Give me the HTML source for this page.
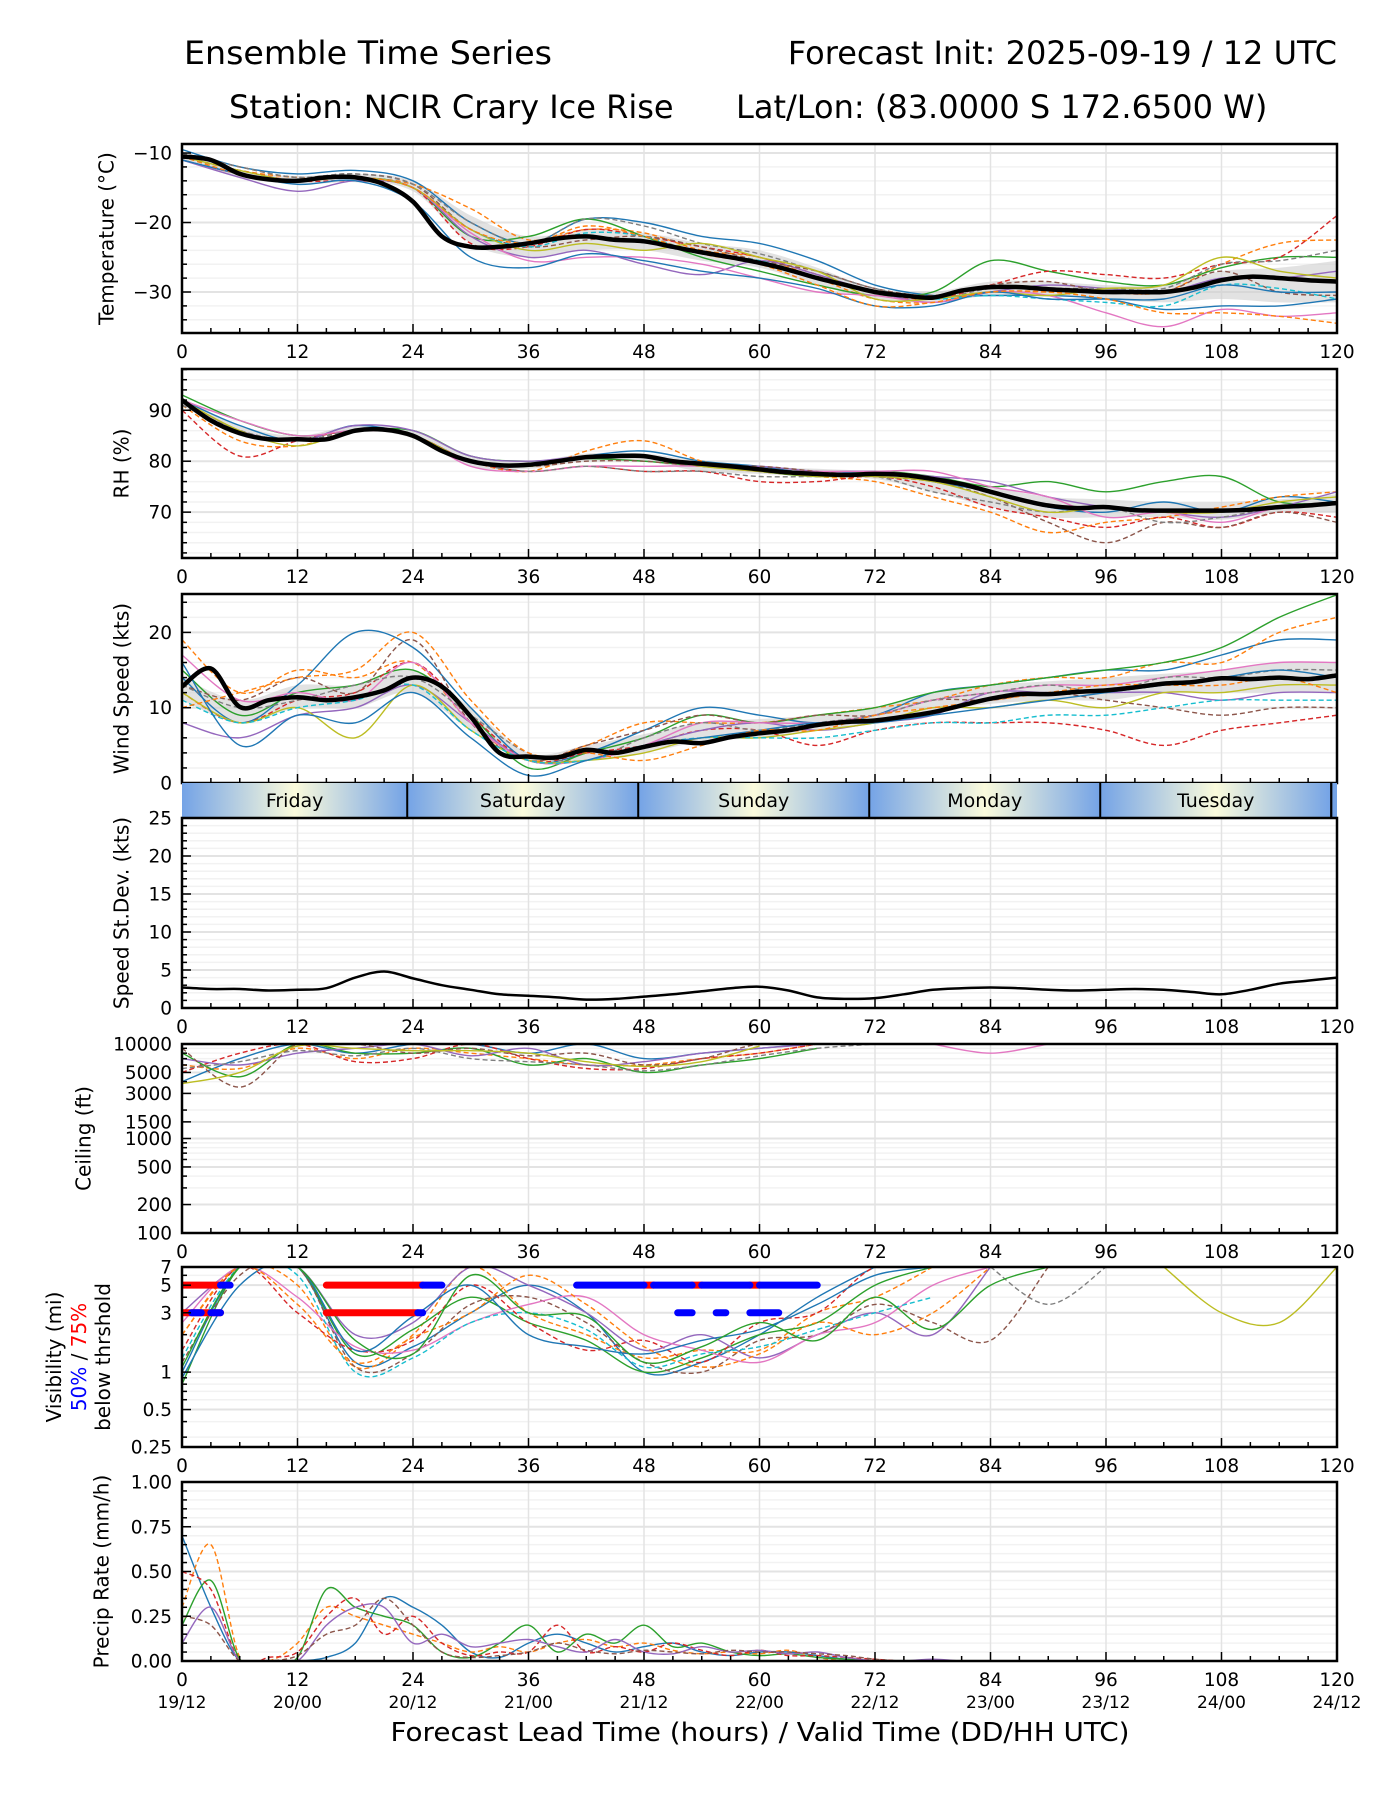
<!DOCTYPE html>
<html><head><meta charset="utf-8"><style>
html,body{margin:0;padding:0;background:#fff;}
svg text{font-family:"DejaVu Sans","Liberation Sans",sans-serif;}
</style></head><body>
<svg id="chart" xmlns="http://www.w3.org/2000/svg" width="1400" height="1800" viewBox="0 0 1400 1800">
<rect width="1400" height="1800" fill="#fff"/>
<defs>
<linearGradient id="dayGrad" x1="0" x2="1" y1="0" y2="0">
<stop offset="0" stop-color="#74a3e6"/><stop offset="0.5" stop-color="#fbfbdc"/><stop offset="1" stop-color="#74a3e6"/>
</linearGradient>
</defs>
<text x="184" y="64" font-size="32" textLength="368" lengthAdjust="spacingAndGlyphs">Ensemble Time Series</text>
<text x="1337" y="64" font-size="32" text-anchor="end">Forecast Init: 2025-09-19 / 12 UTC</text>
<text x="229" y="118" font-size="32">Station: NCIR Crary Ice Rise</text>
<text x="736" y="118" font-size="32">Lat/Lon: (83.0000 S 172.6500 W)</text>
<g id="plots"></g>
</svg>
<script>
// ---------- DATA ----------
const hours3 = [0,3,6,9,12,15,18,21,24,27,30,33,36,39,42,45,48,51,54,57,60,63,66,69,72,75,78,81,84,87,90,93,96,99,102,105,108,111,114,117,120];
const hours6 = [0,6,12,18,24,30,36,42,48,54,60,66,72,78,84,90,96,102,108,114,120];
const xTicks = [0,12,24,36,48,60,72,84,96,108,120];
const dateLabels = ["19/12","20/00","20/12","21/00","21/12","22/00","22/12","23/00","23/12","24/00","24/12"];
const dayNames = ["Friday","Saturday","Sunday","Monday","Tuesday"];
const dayBounds = [0,23.4,47.4,71.4,95.4,119.4,120];

const tempMean = [-10.5,-11,-13,-13.8,-14,-13.5,-13.5,-14.5,-17,-22,-23.5,-23.5,-23,-22.3,-22,-22.5,-22.7,-23.5,-24.3,-25,-25.8,-26.8,-28,-29,-30,-30.5,-30.8,-29.8,-29.3,-29.3,-29.6,-29.8,-30,-30,-30,-29.4,-28.3,-27.8,-28,-28.3,-28.5];
const tempHi = [-10,-12.5,-13.3,-13,-14,-19,-22,-21,-21.5,-23,-24,-26.5,-29.5,-30,-28.5,-28.5,-29,-29,-27,-26.5,-25.5];
const tempLo = [-11,-13.5,-14.5,-14.2,-15.5,-23,-25,-24,-24,-25.5,-26.5,-29,-31,-31.5,-30.5,-30.5,-31,-31.5,-31,-31.5,-31.5];
const tempM1 = [-9.5,-12,-13,-12.5,-14,-20,-23,-19.5,-20,-22,-23,-25.5,-29,-30.5,-30.5,-30.5,-31,-32.5,-32,-32,-31];
const tempM2 = [-10.5,-12.5,-13.5,-13.5,-14.5,-18,-22.5,-21,-21.5,-24,-25,-28,-31,-31.5,-30,-30,-30,-30,-26,-23,-22.5];
const tempM3 = [-11,-13,-14,-13.5,-15,-22,-22,-19.5,-22,-25,-27,-29,-30.5,-30,-25.5,-27,-28.5,-29,-26.5,-25,-25];
const tempM4 = [-10.5,-12.5,-14,-14,-15,-23,-23.5,-21,-22,-23.5,-25,-27.5,-30,-31,-29,-27,-27.5,-28,-26,-25,-19];
const tempM5 = [-11,-13.5,-15.5,-14,-15,-22,-25,-24,-26,-27.5,-25.5,-27.5,-30,-31.5,-30,-29,-29.5,-30,-28,-28,-27];
const tempM6 = [-10,-12,-13.5,-13,-14.5,-21,-23.5,-22.5,-22,-23.5,-25.5,-27,-29.5,-30.5,-29,-28.5,-30,-30,-27,-30,-30.5];
const tempM7 = [-11,-13,-14,-13.5,-15,-21.5,-25.5,-25,-25,-26,-28,-30,-30.5,-31.5,-30,-30.5,-33,-35,-32.5,-33.5,-33];
const tempM8 = [-10,-12,-13.5,-13,-14.5,-20,-23,-19.5,-20.5,-23,-24.5,-27,-29.5,-31,-29.5,-29.5,-29.5,-29.5,-26,-25.5,-24];
const tempM9 = [-10.5,-12.5,-14,-13.5,-15,-21,-24,-23,-24,-23,-25,-27,-31,-31,-30,-30.5,-29.5,-29,-25,-27,-28];
const tempM10 = [-10.5,-13,-14,-13.5,-15,-21,-23.5,-21.5,-22,-24.5,-25.5,-28,-30,-31,-30.5,-31,-31.5,-32,-29,-29.5,-31];
const tempM11 = [-11,-13,-14.5,-14,-17,-25,-26.5,-24.5,-25.5,-27,-28,-29.5,-32,-32,-30,-31,-31,-31,-29,-30,-30];
const tempM12 = [-10.5,-13,-14,-13.5,-15,-21,-23,-20.5,-22,-24.5,-26,-29,-32,-31.5,-30,-30,-31,-33,-33,-33.5,-34.5];

const rhMean = [92,88,85.5,84.3,84.3,84.3,86,86.2,85,82,80,79.2,79.3,80,80.8,81,81,80,79.5,79,78.4,77.8,77.5,77.3,77.5,77.3,76.5,75.5,74,72.5,71.3,70.8,71,70.4,70.3,70.3,70.3,70.5,71,71.3,71.8];
const rhHi = [92.5,87,85,87,86,81,80,81.5,81.5,80,79,78.5,78,77,75,73,72.5,72,72,72.5,73.5];
const rhLo = [91,85,84,86,84.5,79,78.5,80,80,78,77.5,77,76.5,74,71,69,69,69,68.5,70,70];
const rhM1 = [92,87,84,87,85,80,79,81,82,80,79,77.5,78,76,74,71,70,72,70,73,72];
const rhM2 = [91,84,83,86,85,80,78,82,84,80,78,77,76,73,70,66,68,69,71,73,74];
const rhM3 = [93,88,85,86,86,81,80,80.5,80,79,78,77,78,77,75,76,74,76,77,72,72];
const rhM4 = [90,81,84,86,85,80,78,79,78,78,76,76,77,75,71,69,67,69,67,70,69];
const rhM5 = [92,86,84,87,86,81,80,81,81,79,79,78,78,77,76,73,71,70,69,71,74];
const rhM6 = [91,86,84,86,85,80,79,80,80,79,79,78,77,76,73,68,64,68,67,70,68];
const rhM7 = [92,88,85,86,85,79,78,79,79,79,78,78,78,78,75,73,69,70,68,71,72];
const rhM8 = [91,86,84,86,85,80,78,79,78,78,77,77,77,74,72,70,71,68,69,71,72];
const rhM9 = [92,86,83,86,85,80,79,81,81,79,78,77,77,76,73,70,71,70,70,72,73];

const windMean = [12.8,15.2,10.1,11,11.4,11,11.4,12.3,14,12.8,8.8,4,3.5,3.4,4.4,4,4.8,5.5,5.3,6.1,6.6,7,7.7,8.1,8.3,8.8,9.4,10.3,11.2,11.8,11.8,12.1,12.3,12.7,13.2,13.4,13.9,13.8,14,13.8,14.3];
const windHi = [14,11,13,13,15,10,4,5,6.5,8,8.5,9,10,12,13,13.5,14,14.5,15,16,16];
const windLo = [11,8,10,10,12,7,3,3,4,5.5,6,7,8,9.5,10.5,11,11,12,12,12,12];
const windM1 = [14,8,13,20,18,10,3,4,7,10,9,8,9,12,13,14,15,15,17,19,19];
const windM2 = [19,12,15,14,16,8,3,5,8,8,8,9,10,11,13,14,14,16,16,20,22];
const windM3 = [15,9,12,13,15,9,2,4,6,9,8,9,10,12,13,14,15,16,18,22,25];
const windM4 = [12,8,11,12,16,9,3,4,5,7,7,5,7,8,8,8,7,5,7,8,9];
const windM5 = [8,6,9,10,13,8,3,3,5,7,8,7,8,9,12,12,12,12,11,12,12];
const windM6 = [13,11,14,12,19,8,3,5,7,9,8,9,9,11,11,12,11,10,9,10,10];
const windM7 = [17,11,12,11,16,8,3,3,5,8,8,8,9,11,12,13,13,14,15,16,16];
const windM8 = [13,10,11,13,14,9,4,3,6,8,7,8,9,11,12,13,12,14,14,15,15];
const windM9 = [12,8,10,6,13,7,3,3,4,6,6,7,8,10,10,11,10,12,12,13,13];
const windM10 = [11,8,10,11,13,7,3,3,5,6,6,6,7,8,8,9,9,10,11,11,11];
const windM11 = [16,5,9,8,12,6,1,3,5,6,7,8,8,9,10,11,12,13,14,15,14];
const windM12 = [10,12,14,15,20,11,4,4,3,5,7,7,9,10,11,12,13,13,13,14,12];

const sdevMean = [2.7,2.5,2.5,2.3,2.4,2.6,4.0,4.8,3.9,3.0,2.4,1.8,1.6,1.4,1.1,1.2,1.5,1.8,2.2,2.6,2.8,2.3,1.4,1.2,1.3,1.8,2.4,2.6,2.7,2.6,2.4,2.3,2.4,2.5,2.4,2.1,1.8,2.4,3.2,3.6,4.0];

const ceilM1 = [4000,7000,10000,8000,10000,10000,8000,10000,7000,8000,9000,10000,10000,null,null,null,null,null,null,null,null];
const ceilM2 = [6000,5500,9000,7000,9000,8000,7000,6000,6000,7000,8000,10000,null,null,null,null,null,null,null,null,null];
const ceilM3 = [8000,4500,10000,8000,8000,9000,6000,7000,5000,6000,7000,9000,null,null,null,null,null,null,null,null,null];
const ceilM4 = [5000,8000,10000,6500,7000,10000,7000,5500,5500,7000,8000,10000,null,null,null,null,null,null,null,null,null];
const ceilM5 = [7000,6000,8000,9000,10000,7500,9000,6000,6500,8000,9000,10000,null,null,null,null,null,null,null,null,null];
const ceilM6 = [9000,3500,10000,10000,8000,9000,7500,8000,6000,7000,10000,10000,null,null,null,null,null,null,null,null,null];
const ceilM7 = [null,null,null,null,null,null,null,null,null,null,null,null,null,10000,8000,10000,null,null,null,null,null];
const ceilM8 = [5500,6500,8500,7500,9000,7000,6500,6000,5200,6000,7500,9000,10000,null,null,null,null,null,null,null,null];
const ceilM9 = [3800,5000,9500,9000,8500,8500,8000,6500,5800,6500,9500,null,null,null,null,null,null,null,null,null,null];

const visM1 = [1.0,7,7,1.2,1.6,3.0,5.0,3.0,1.0,1.2,2.0,4.0,7,null,null,null,null,null,null,null,null];
const visM2 = [2.0,7,5,1.1,2.0,7,3.0,2.0,1.3,1.5,1.5,3.0,4.0,7,null,null,null,null,null,null,null];
const visM3 = [0.8,7,7,1.4,2.2,4.0,2.5,1.8,1.0,1.3,2.0,2.5,5.0,7,null,null,null,null,null,null,null];
const visM4 = [1.5,7,3,1.5,1.8,5.0,2.5,1.5,1.8,1.2,2.5,3.0,7,7,null,null,null,null,null,null,null];
const visM5 = [3.0,7,7,2.0,2.5,7,5.0,3.0,1.5,2.0,1.3,2.0,3.0,2.0,7,null,null,null,null,null,null];
const visM6 = [1.2,6,7,1.1,1.4,3.5,4.0,2.5,1.2,1.0,1.8,2.0,3.5,2.5,1.8,7,null,null,null,null,null];
const visM7 = [2.5,7,4,1.6,1.5,2.5,3.5,4.0,2.0,1.5,1.2,2.0,2.5,5,7,null,null,null,null,null,null];
const visM8 = [null,null,null,null,null,null,null,null,null,null,null,null,null,null,7,3.5,7,null,null,null,null];
const visM9 = [null,null,null,null,null,null,null,null,null,null,null,null,null,null,null,null,null,7,3,2.5,7];
const visM10 = [1.3,7,6,1.0,1.3,2.5,3,2.2,1.1,1.4,1.6,2.2,3,4,null,null,null,null,null,null,null];
const visM11 = [0.9,5,7,1.5,2.8,5,2,1.6,1.4,1.8,2.2,3.5,6,7,null,null,null,null,null,null,null];
const visM12 = [2,7,3.5,1.2,1.9,3,6,3.5,1.6,1.1,1.4,2.5,2,3,7,null,null,null,null,null,null];
const visM13 = [1.1,7,7,1.8,1.4,6,3,2.8,1.2,1.6,2.5,1.8,4,2.2,5,7,null,null,null,null,null];
const visRed5 = [[0,4],[15,25],[48,49],[53,54],[59,60]];
const visBlue5 = [[4,5],[25,27],[41,48],[49,53],[54,59],[60,66]];
const visRed3 = [[0,4],[15,24.5]];
const visBlue3 = [[1,2],[3,4],[24.5,25],[51.5,53],[55.5,56.5],[59,62]];

const precM1 = [0.7,0.3,0,0,0,0.02,0.1,0.35,0.3,0.2,0.05,0.02,0.1,0.15,0.1,0.05,0.08,0.1,0.05,0.03,0.05,0.05,0.03,0.01,0,0,0,0,0,0,0,0,0,0,0,0,0,0,0,0,0];
const precM2 = [0.3,0.65,0.02,0,0.1,0.3,0.25,0.2,0.15,0.1,0.05,0.08,0.05,0.1,0.12,0.08,0.1,0.06,0.04,0.05,0.04,0.06,0.02,0,0,0,0,0,0,0,0,0,0,0,0,0,0,0,0,0,0];
const precM3 = [0.2,0.45,0.01,0,0.02,0.4,0.3,0.25,0.2,0.05,0.02,0.1,0.2,0.05,0.15,0.1,0.2,0.08,0.1,0.05,0.03,0.04,0.02,0.01,0,0,0,0,0,0,0,0,0,0,0,0,0,0,0,0,0];
const precM4 = [0.5,0.4,0,0.02,0.05,0.25,0.35,0.15,0.25,0.1,0.03,0.05,0.05,0.2,0.05,0.08,0.05,0.1,0.06,0.03,0.06,0.03,0.03,0.02,0.01,0,0,0,0,0,0,0,0,0,0,0,0,0,0,0,0];
const precM5 = [0.1,0.3,0,0,0,0.2,0.3,0.3,0.1,0.15,0.08,0.1,0.12,0.08,0.05,0.12,0.05,0.04,0.08,0.05,0.06,0.04,0.05,0.02,0,0,0.01,0,0,0,0,0,0,0,0,0,0,0,0,0,0];
const precM6 = [0.25,0.2,0,0,0.03,0.15,0.2,0.35,0.2,0.05,0.02,0.03,0.05,0.1,0.06,0.04,0.06,0.05,0.04,0.06,0.05,0.05,0.04,0.03,0.01,0,0,0,0,0,0,0,0,0,0,0,0,0,0,0,0];

// ---------- RENDERING ----------
const NS = "http://www.w3.org/2000/svg";
const root = document.getElementById("plots");
const L = 182, R = 1337;
const X = h => L + h * (R - L) / 120;
const colors = ["#1f77b4","#ff7f0e","#2ca02c","#d62728","#9467bd","#8c564b","#e377c2","#7f7f7f","#bcbd22","#17becf"];
function el(tag, attrs, parent) {
  const e = document.createElementNS(NS, tag);
  for (const k in attrs) e.setAttribute(k, attrs[k]);
  (parent || root).appendChild(e);
  return e;
}
function smooth(pts) {
  let d = "", seg = [];
  const flush = () => {
    if (seg.length === 1) d += `M${seg[0][0]},${seg[0][1]}h0.1`;
    else if (seg.length > 1) {
      d += `M${seg[0][0]},${seg[0][1]}`;
      for (let i = 0; i < seg.length - 1; i++) {
        const p0 = seg[i - 1] || seg[i], p1 = seg[i], p2 = seg[i + 1], p3 = seg[i + 2] || p2;
        const c1 = [p1[0] + (p2[0] - p0[0]) / 6, p1[1] + (p2[1] - p0[1]) / 6];
        const c2 = [p2[0] - (p3[0] - p1[0]) / 6, p2[1] - (p3[1] - p1[1]) / 6];
        d += `C${c1[0].toFixed(1)},${c1[1].toFixed(1)} ${c2[0].toFixed(1)},${c2[1].toFixed(1)} ${p2[0].toFixed(1)},${p2[1].toFixed(1)}`;
      }
    }
    seg = [];
  };
  for (const p of pts) { if (p === null) flush(); else seg.push(p); }
  flush();
  return d;
}
let clipId = 0;
function panel(cfg) {
  const { top, bot, min, max, log, major, minor, labels, name, ylabel, ylabelX, noXLabels } = cfg;
  const tf = v => log ? Math.log(v) : v;
  const Y = v => bot - (tf(v) - tf(min)) / (tf(max) - tf(min)) * (bot - top);
  const g = el("g", {});
  
  
  const cid = "clip" + (clipId++);
  const cp = el("clipPath", { id: cid }, g);
  el("rect", { x: L, y: top, width: R - L, height: bot - top }, cp);
  const grid = el("g", {}, g);
  
  
  (minor || []).forEach(v => el("line", { x1: L, x2: R, y1: Y(v), y2: Y(v), stroke: "#f2f2f2", "stroke-width": 1.5 }, grid));
  major.forEach(v => el("line", { x1: L, x2: R, y1: Y(v), y2: Y(v), stroke: "#e3e3e3", "stroke-width": 2 }, grid));
  xTicks.forEach(h => el("line", { x1: X(h), x2: X(h), y1: top, y2: bot, stroke: "#e3e3e3", "stroke-width": 1.5 }, grid));
  const series = el("g", { "clip-path": `url(#${cid})` }, g);
  
  
  el("rect", { x: L, y: top, width: R - L, height: bot - top, fill: "none", stroke: "#000", "stroke-width": 2.5 }, g);
  const ticks = el("g", { stroke: "#000", "stroke-width": 1.5 }, g);
  for (let h = 0; h <= 120; h += 3) {
    const len = h % 12 === 0 ? 9 : 5;
    el("line", { x1: X(h), x2: X(h), y1: bot, y2: bot - len }, ticks);
  }
  (minor || []).forEach(v => el("line", { x1: L, x2: L + 5, y1: Y(v), y2: Y(v) }, ticks));
  major.forEach(v => el("line", { x1: L, x2: L + 9, y1: Y(v), y2: Y(v) }, ticks));
  major.forEach((v, i) => {
    const t = el("text", { x: 172, y: Y(v) + 6.5, "font-size": 18.5, "text-anchor": "end" }, g);
    
    
    t.textContent = labels[i];
  });
  if (!noXLabels) xTicks.forEach(h => {
    const t = el("text", { x: X(h), y: bot + 25, "font-size": 18.5, "text-anchor": "middle" }, g);
    
    
    t.textContent = h;
  });
  if (ylabel) {
    const cy = (top + bot) / 2;
    const t = el("text", { x: ylabelX, y: cy, "font-size": 20, "text-anchor": "middle", transform: `rotate(-90 ${ylabelX} ${cy})`, "dominant-baseline": "middle" }, g);
    
    
    t.textContent = ylabel;
  }
  return { Y, series, g };
}
function drawLine(p, hrs, vals, color, dashed, width, nm) {
  const pts = vals.map((v, i) => v === null ? null : [X(hrs[i]), p.Y(v)]);
  const path = el("path", { d: smooth(pts), fill: "none", stroke: color, "stroke-width": width || 1.4, "stroke-dasharray": dashed ? "5,3" : "none", "stroke-linejoin": "round" }, p.series);
  
  
  return path;
}
function drawBand(p, hrs, lo, hi, nm) {
  const up = hi.map((v, i) => [X(hrs[i]), p.Y(v)]);
  const dn = lo.map((v, i) => [X(hrs[i]), p.Y(v)]).reverse();
  const d = smooth(up) + smooth(dn).replace("M", "L") + "Z";
  const path = el("path", { d: d, fill: "#cfcfcf", "fill-opacity": 0.6, stroke: "none" }, p.series);
  
  
}
function members(p, list, hrs, nm) {
  list.forEach((arr, i) => drawLine(p, hrs, arr, colors[i % 10], i % 2 === 1, 1.4, nm + '-member-' + (i + 1)));
}

const pT = panel({ top: 144, bot: 333, min: -35.9, max: -8.7, major: [-10,-20,-30], labels: ["\u221210","\u221220","\u221230"], minor: [-12,-14,-16,-18,-22,-24,-26,-28,-32,-34], name: "temperature", ylabel: "Temperature (\u00b0C)", ylabelX: 108 });
drawBand(pT, hours6, tempLo, tempHi, "temperature-spread");
members(pT, [tempM1,tempM2,tempM3,tempM4,tempM5,tempM6,tempM7,tempM8,tempM9,tempM10,tempM11,tempM12], hours6, "temperature");
drawLine(pT, hours3, tempMean, "#000", false, 4.5, "temperature-mean");

const pR = panel({ top: 369, bot: 558, min: 61, max: 98.1, major: [70,80,90], labels: ["70","80","90"], minor: [62,64,66,68,72,74,76,78,82,84,86,88,92,94,96,98], name: "rh", ylabel: "RH (%)", ylabelX: 123 });
drawBand(pR, hours6, rhLo, rhHi, "rh-spread");
members(pR, [rhM1,rhM2,rhM3,rhM4,rhM5,rhM6,rhM7,rhM8,rhM9], hours6, "rh");
drawLine(pR, hours3, rhMean, "#000", false, 4.5, "rh-mean");

const pW = panel({ top: 594, bot: 783, min: 0, max: 25.1, major: [0,10,20], labels: ["0","10","20"], minor: [2,4,6,8,12,14,16,18,22,24], name: "wind", ylabel: "Wind Speed (kts)", ylabelX: 123, noXLabels: true });
drawBand(pW, hours6, windLo, windHi, "wind-spread");
members(pW, [windM1,windM2,windM3,windM4,windM5,windM6,windM7,windM8,windM9,windM10,windM11,windM12], hours6, "wind");
drawLine(pW, hours3, windMean, "#000", false, 4.5, "wind-mean");

const dayG = el("g", {});


for (let i = 0; i < dayBounds.length - 1; i++) {
  const x0 = X(dayBounds[i]), x1 = X(dayBounds[i + 1]);
  const r = el("rect", { x: x0, y: 783, width: x1 - x0, height: 35, fill: i === dayBounds.length - 2 ? "#74a3e6" : "url(#dayGrad)" }, dayG);
  
  
  if (i > 0) el("line", { x1: x0, x2: x0, y1: 783, y2: 818, stroke: "#000", "stroke-width": 2 }, dayG);
  if (dayNames[i]) {
    const t = el("text", { x: (x0 + x1) / 2, y: 807, "font-size": 19, "text-anchor": "middle" }, dayG);
    
    
    t.textContent = dayNames[i];
  }
}
el("line", { x1: X(119.4), x2: X(119.4), y1: 783, y2: 818, stroke: "#000", "stroke-width": 2 }, dayG);

const pS = panel({ top: 818, bot: 1008, min: 0, max: 25, major: [0,5,10,15,20,25], labels: ["0","5","10","15","20","25"], minor: [1,2,3,4,6,7,8,9,11,12,13,14,16,17,18,19,21,22,23,24], name: "speed-stdev", ylabel: "Speed St.Dev. (kts)", ylabelX: 123 });
drawLine(pS, hours3, sdevMean, "#000", false, 2.5, "speed-stdev-line");

const pC = panel({ top: 1044, bot: 1233, min: 100, max: 10000, log: true, major: [100,200,500,1000,1500,3000,5000,10000], labels: ["100","200","500","1000","1500","3000","5000","10000"], minor: [300,400,600,700,800,900,2000,4000,6000,7000,8000,9000], name: "ceiling", ylabel: "Ceiling (ft)", ylabelX: 85 });
members(pC, [ceilM1,ceilM2,ceilM3,ceilM4,ceilM5,ceilM6,ceilM7,ceilM8,ceilM9], hours6, "ceiling");

const pV = panel({ top: 1267, bot: 1447, min: 0.25, max: 7, log: true, major: [0.25,0.5,1,3,5,7], labels: ["0.25","0.5","1","3","5","7"], minor: [0.3,0.4,0.6,0.7,0.8,0.9,2,4,6], name: "visibility", ylabel: null });
members(pV, [visM1,visM2,visM3,visM4,visM5,visM6,visM7,visM8,visM9,visM10,visM11,visM12,visM13], hours6, "visibility");
function thr(segs, val, color, nm) {
  segs.forEach(s => {
    const ln = el("line", { x1: X(s[0]), x2: X(s[1]), y1: pV.Y(val), y2: pV.Y(val), stroke: color, "stroke-width": 7, "stroke-linecap": "round" }, pV.series);
    
    
  });
}
thr(visRed5, 5, "#ff0000", "vis-75pct-5mi");
thr(visBlue5, 5, "#0000ff", "vis-50pct-5mi");
thr(visRed3, 3, "#ff0000", "vis-75pct-3mi");
thr(visBlue3, 3, "#0000ff", "vis-50pct-3mi");
const vl = el("text", { "font-size": 20, "text-anchor": "middle", transform: "translate(0 1357) rotate(-90)" });


vl.innerHTML = '<tspan x="0" y="61">Visibility (mi)</tspan><tspan x="0" y="86"><tspan fill="#0000ff">50%</tspan> / <tspan fill="#ff0000">75%</tspan></tspan><tspan x="0" y="110">below thrshold</tspan>';

const pP = panel({ top: 1482, bot: 1661, min: 0, max: 1, major: [0,0.25,0.5,0.75,1], labels: ["0.00","0.25","0.50","0.75","1.00"], minor: [0.05,0.1,0.15,0.2,0.3,0.35,0.4,0.45,0.55,0.6,0.65,0.7,0.8,0.85,0.9,0.95], name: "precip", ylabel: "Precip Rate (mm/h)", ylabelX: 103 });
members(pP, [precM1,precM2,precM3,precM4,precM5,precM6], hours3, "precip");
xTicks.forEach((h, i) => {
  const t = el("text", { x: X(h), y: 1708, "font-size": 17, "text-anchor": "middle" });
  
  
  t.textContent = dateLabels[i];
});
const xl = el("text", { x: 760, y: 1741, "font-size": 26, "text-anchor": "middle", textLength: 739, lengthAdjust: "spacingAndGlyphs" });


xl.textContent = "Forecast Lead Time (hours) / Valid Time (DD/HH UTC)";
</script>
</body></html>
